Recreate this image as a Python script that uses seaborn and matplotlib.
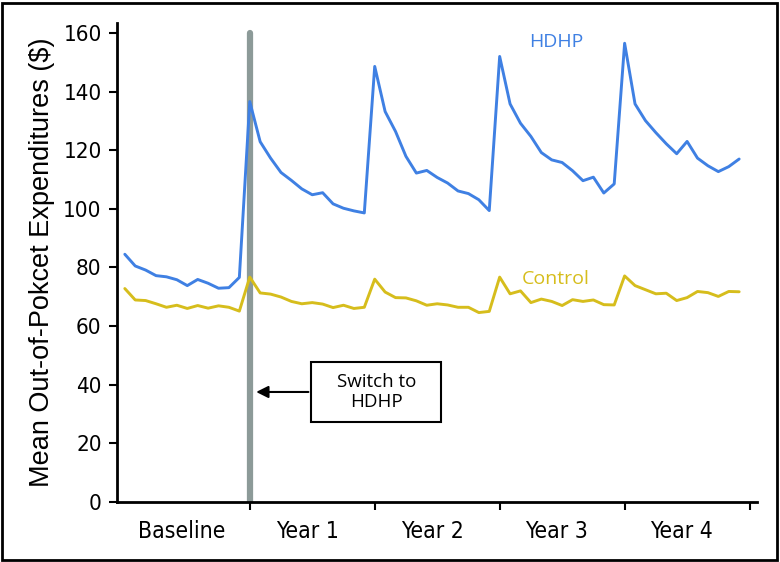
import matplotlib
matplotlib.use("Agg")
import matplotlib.pyplot as plt
from matplotlib.patches import Rectangle
import numpy as np
import pandas as pd
import seaborn as sns

# mean monthly out-of-pocket expenditures ($), 12 baseline months + 4 years
hdhp = [84.5, 80.5, 79.1, 77.2, 76.8, 75.8, 73.8, 75.9, 74.6, 72.9, 73.1, 76.6,
        136.6, 122.9, 117.3, 112.4, 109.7, 106.8, 104.8, 105.5, 101.7, 100.2, 99.3, 98.6,
        148.6, 133.2, 126.4, 117.9, 112.2, 113.1, 110.7, 108.8, 106.1, 105.2, 103.1, 99.4,
        152.0, 135.8, 129.2, 124.7, 119.2, 116.7, 115.8, 113.0, 109.6, 110.8, 105.4, 108.5,
        156.5, 135.8, 130.1, 126.0, 122.2, 118.8, 123.0, 117.3, 114.7, 112.7, 114.4, 117.0]
control = [72.8, 68.9, 68.7, 67.6, 66.4, 67.1, 66.0, 67.0, 66.1, 66.9, 66.4, 65.1,
           76.7, 71.3, 70.9, 69.9, 68.4, 67.6, 68.0, 67.5, 66.3, 67.1, 66.0, 66.4,
           76.0, 71.6, 69.7, 69.6, 68.6, 67.1, 67.6, 67.2, 66.4, 66.4, 64.6, 65.0,
           76.7, 71.0, 72.0, 68.0, 69.2, 68.4, 67.0, 69.0, 68.4, 68.9, 67.3, 67.2,
           77.1, 73.8, 72.4, 71.0, 71.2, 68.7, 69.7, 71.8, 71.4, 70.1, 71.8, 71.7]
periods = ["Baseline", "Year 1", "Year 2", "Year 3", "Year 4"]
switch_month = 12
yticks = list(range(0, 161, 20))

months = np.arange(len(hdhp))
df = pd.DataFrame({
    "month": np.concatenate([months, months]),
    "value": hdhp + control,
    "group": ["HDHP"] * len(hdhp) + ["Control"] * len(control),
})

sns.set_style("white")
plt.rcParams["font.family"] = ["Liberation Sans", "DejaVu Sans"]
plt.rcParams["text.color"] = "black"
plt.rcParams["axes.labelcolor"] = "black"
plt.rcParams["xtick.color"] = "black"
plt.rcParams["ytick.color"] = "black"

fig, ax = plt.subplots(figsize=(7.8, 5.62), dpi=100)
fig.subplots_adjust(left=0.150, right=0.971, bottom=0.107, top=0.959)

blue = "#3f80e3"
yellow = "#d6bd1c"
sns.lineplot(data=df, x="month", y="value", hue="group",
             palette={"HDHP": blue, "Control": yellow},
             linewidth=2.1, legend=False, ax=ax)

ax.axvline(switch_month, ymin=0, ymax=160 / 163.4, color="#8c9a98", lw=4.5, zorder=1)

ax.set_xlim(-0.75, 60.75)
ax.set_ylim(0, 163.4)
ax.set_yticks(yticks)
ax.set_xticks([12 * (i + 1) for i in range(len(periods))])
ax.set_xticklabels([])
ax.set_xticks([12 * i + 5.5 for i in range(len(periods))], minor=True)
ax.set_xticklabels(periods, minor=True)
ax.tick_params(axis="x", which="minor", bottom=False, length=0, pad=13, labelsize=16.5)
ax.tick_params(axis="x", which="major", bottom=True, length=6, width=1.5, direction="out")
ax.tick_params(axis="y", left=True, length=6, width=1.5, direction="out",
               labelsize=16, pad=5)
for lab in ax.get_xticklabels(minor=True) + ax.get_yticklabels():
    lab.set_family(["DejaVu Sans"])
    lab.set_fontstretch("condensed")

sns.despine(ax=ax)
for side in ["left", "bottom"]:
    ax.spines[side].set_linewidth(2)
    ax.spines[side].set_color("black")

ax.set_xlabel("")
ax.set_ylabel("Mean Out-of-Pokcet Expenditures ($)", fontsize=19.5, labelpad=6)

ax.text(41.4, 157, "HDHP", color=blue, fontsize=14, ha="center", va="center",
        family=["Open Sans", "DejaVu Sans"])
ax.text(41.4, 76, "Control", color=yellow, fontsize=14, ha="center", va="center",
        family=["Open Sans", "DejaVu Sans"])

# annotation box
ax.add_patch(Rectangle((17.9, 27.3), 12.5, 20.5, fill=False, lw=1.5, ec="black", zorder=3))
ax.text(24.15, 37.5, "Switch to\nHDHP", ha="center", va="center", fontsize=13.5,
        linespacing=1.2, family=["Open Sans", "DejaVu Sans"])
ax.annotate("", xy=(12.35, 37.5), xytext=(17.9, 37.5),
            arrowprops=dict(arrowstyle="-|>", color="black", lw=1.5, mutation_scale=18))

fig.patches.append(Rectangle((0.003, 0.004), 0.993, 0.99, transform=fig.transFigure,
                             fill=False, lw=2, ec="black"))

fig.savefig("out.png", dpi=100)
